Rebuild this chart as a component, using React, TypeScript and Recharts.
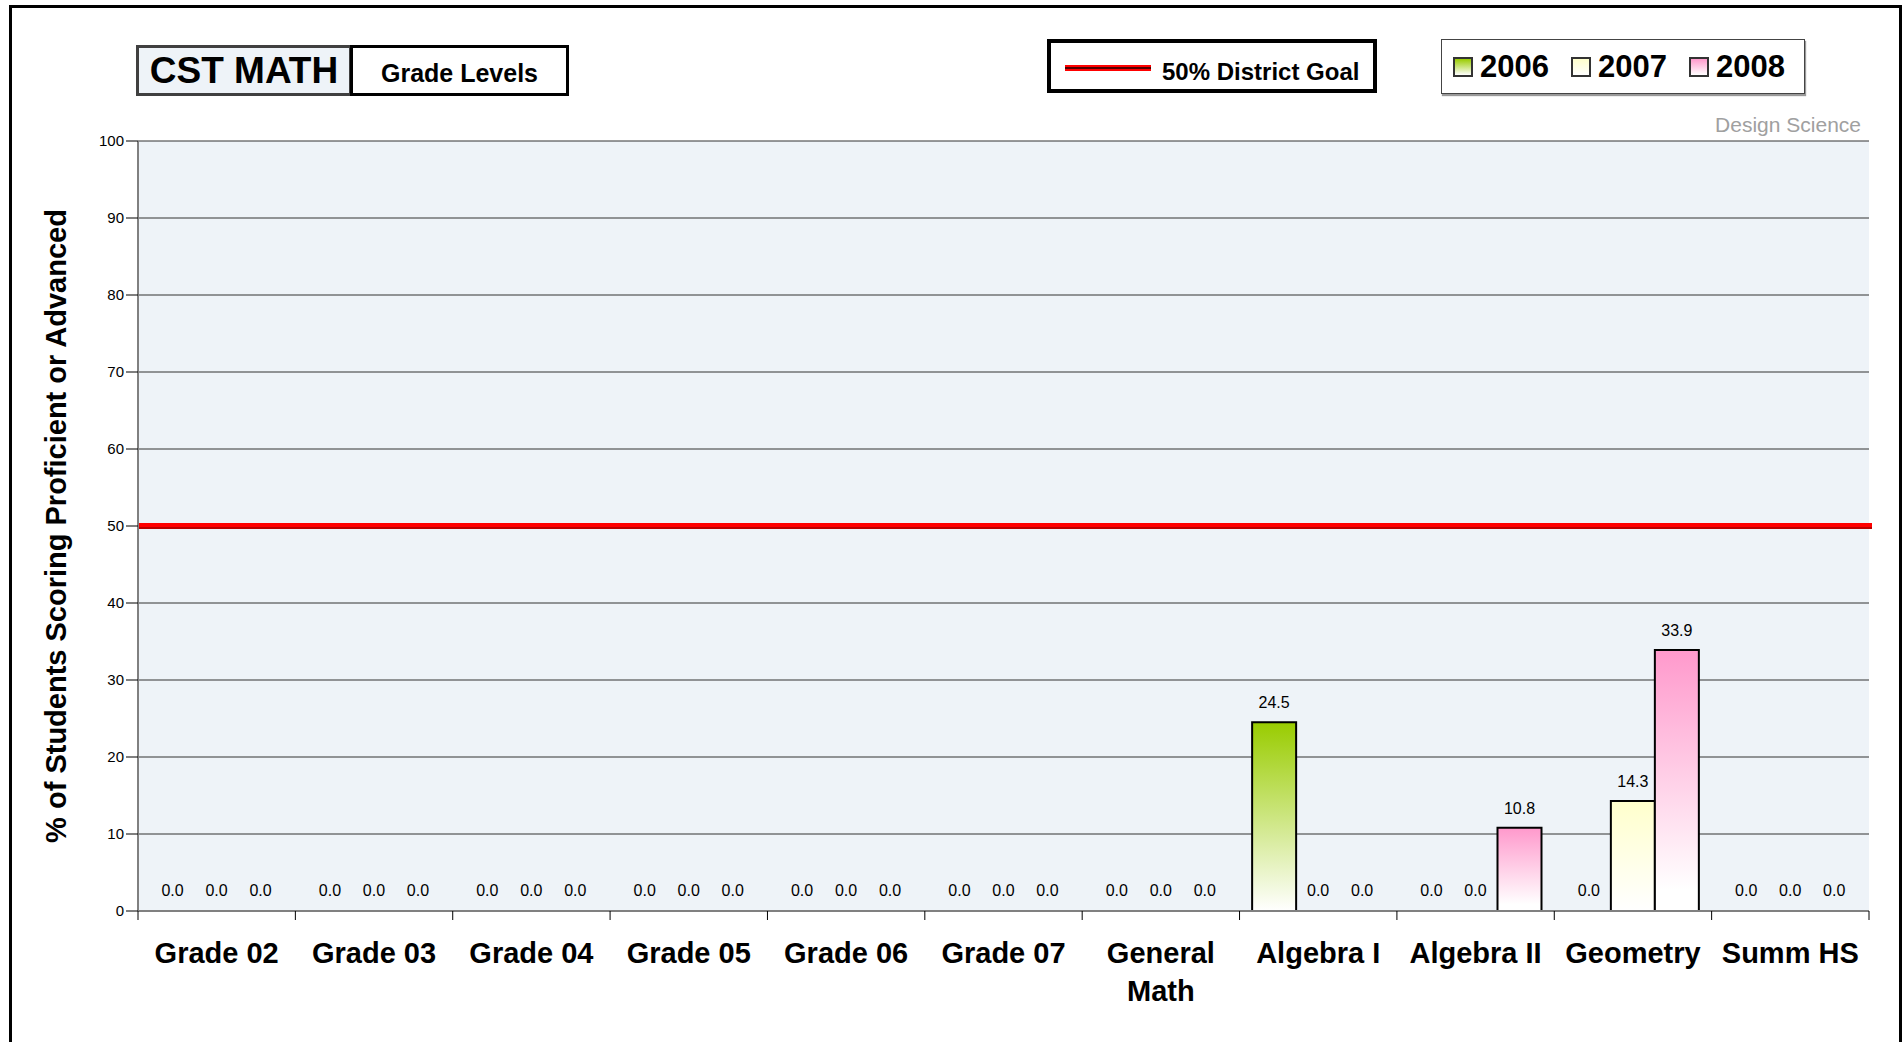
import React from 'react';
import { Bar, BarChart, CartesianGrid, LabelList, Rectangle, ReferenceLine, XAxis, YAxis } from 'recharts';

const categories = ['Grade 02', 'Grade 03', 'Grade 04', 'Grade 05', 'Grade 06', 'Grade 07', 'General Math', 'Algebra I', 'Algebra II', 'Geometry', 'Summ HS'];
const pct2006 = [0, 0, 0, 0, 0, 0, 0, 24.5, 0, 0, 0];
const pct2007 = [0, 0, 0, 0, 0, 0, 0, 0, 0, 14.3, 0];
const pct2008 = [0, 0, 0, 0, 0, 0, 0, 0, 10.8, 33.9, 0];
const yTicks = [0, 10, 20, 30, 40, 50, 60, 70, 80, 90, 100];
const districtGoal = 50;

const years = [
  { key: 'y2006', label: '2006', top: '#99cc00' },
  { key: 'y2007', label: '2007', top: '#ffffcc' },
  { key: 'y2008', label: '2008', top: '#ff99cc' },
];

const data = categories.map((name, i) => ({
  name,
  y2006: pct2006[i],
  y2007: pct2007[i],
  y2008: pct2008[i],
}));

const FONT = '"Liberation Sans", Arial, sans-serif';

function CategoryTick(props: any) {
  const { x, y, payload, index, width, visibleTicksCount } = props;
  const label = String(payload.value);
  // long names go on two lines, as in the original
  const lines = label.length > 10 ? label.split(' ') : [label];
  // tick marks sit on the band edges, not the band centres
  const half = payload.offset != null ? payload.offset : width / visibleTicksCount / 2;
  const isLast = index === visibleTicksCount - 1;
  return (
    <g>
      <line x1={x - half} y1={y} x2={x - half} y2={y + 9} stroke="#000" />
      {isLast && <line x1={x + half} y1={y} x2={x + half} y2={y + 9} stroke="#000" />}
      <text x={x} y={y + 52} textAnchor="middle" fontFamily={FONT} fontSize={29} fontWeight="bold" fill="#000">
        {lines.map((ln, i) => (
          <tspan key={i} x={x} dy={i === 0 ? 0 : 38}>
            {ln}
          </tspan>
        ))}
      </text>
    </g>
  );
}

function GoalLine(props: any) {
  const { x1, y1, x2 } = props;
  return (
    <g>
      <line x1={x1} y1={y1} x2={x2 + 3} y2={y1} stroke="#ff0000" strokeWidth={6} />
      <line x1={x1} y1={y1 + 2} x2={x2 + 3} y2={y1 + 2} stroke="#7a0000" strokeWidth={1.2} />
    </g>
  );
}

// zero values keep a 1px placeholder so their label still shows, but draw no box
function BarShape(props: any) {
  if (!props.value) return <g />;
  return <Rectangle {...props} />;
}

const fmt = (v: any) => Number(v).toFixed(1);

export default function App() {
  return (
    <div
      style={{
        position: 'absolute',
        left: 0,
        top: 0,
        width: 1904,
        height: 1042,
        overflow: 'hidden',
        background: '#fff',
        fontFamily: FONT,
      }}
    >
      <div
        style={{
          position: 'absolute',
          left: 9,
          top: 5,
          width: 1893,
          height: 1100,
          border: '3px solid #000',
          boxSizing: 'border-box',
        }}
      />

      <BarChart
        width={1904}
        height={1042}
        data={data}
        barCategoryGap="8%"
        barGap={0}
        margin={{ top: 141, right: 35, left: 78, bottom: 51 }}
      >
        <defs>
          {years.map((y) => (
            <linearGradient key={y.key} id={`grad-${y.key}`} x1="0" y1="0" x2="0" y2="1">
              <stop offset="0%" stopColor={y.top} />
              <stop offset={y.key === 'y2008' ? '92%' : '100%'} stopColor="#ffffff" />
            </linearGradient>
          ))}
        </defs>
        <CartesianGrid vertical={false} stroke="#333" fill="#eef3f8" />
        <XAxis
          dataKey="name"
          height={80}
          axisLine={{ stroke: '#808080', strokeWidth: 2 }}
          tickLine={false}
          tickSize={0}
          tickMargin={0}
          interval={0}
          tick={<CategoryTick />}
        />
        <YAxis
          width={60}
          domain={[0, 100]}
          ticks={yTicks}
          interval={0}
          axisLine={{ stroke: '#808080', strokeWidth: 2 }}
          tickLine={{ stroke: '#000' }}
          tickSize={12}
          tick={{ fontFamily: FONT, fontSize: 15, fill: '#000' }}
          label={{
            content: ({ viewBox }: any) => {
              const cx = viewBox.x - 22;
              const cy = viewBox.y + viewBox.height / 2;
              return (
                <text
                  x={cx}
                  y={cy}
                  transform={`rotate(-90 ${cx} ${cy})`}
                  textAnchor="middle"
                  dominantBaseline="central"
                  fontFamily={FONT}
                  fontSize={29}
                  fontWeight="bold"
                  fill="#000"
                >
                  % of Students Scoring Proficient or Advanced
                </text>
              );
            },
          }}
        />
        {years.map((y) => (
          <Bar
            key={y.key}
            dataKey={y.key}
            fill={`url(#grad-${y.key})`}
            stroke="#000"
            strokeWidth={2}
            minPointSize={1}
            shape={<BarShape />}
            isAnimationActive={false}
          >
            <LabelList
              dataKey={y.key}
              position="top"
              offset={14}
              formatter={fmt}
              style={{ fontFamily: FONT, fontSize: 16, fill: '#000' }}
            />
          </Bar>
        ))}
        <ReferenceLine y={districtGoal} shape={<GoalLine />} ifOverflow="visible" />
      </BarChart>

      {/* title boxes */}
      <div
        style={{
          position: 'absolute',
          left: 136,
          top: 45,
          width: 216,
          height: 51,
          boxSizing: 'border-box',
          border: '3px solid #404040',
          background: '#eef3f8',
          fontSize: 37,
          fontWeight: 'bold',
          display: 'flex',
          alignItems: 'center',
          justifyContent: 'center',
        }}
      >
        CST MATH
      </div>
      <div
        style={{
          position: 'absolute',
          left: 350,
          top: 45,
          width: 219,
          height: 51,
          boxSizing: 'border-box',
          border: '3px solid #000',
          background: '#fff',
          fontSize: 25,
          fontWeight: 'bold',
          display: 'flex',
          alignItems: 'center',
          justifyContent: 'center',
          paddingTop: 6,
        }}
      >
        Grade Levels
      </div>

      {/* goal legend */}
      <div
        style={{
          position: 'absolute',
          left: 1047,
          top: 39,
          width: 330,
          height: 54,
          boxSizing: 'border-box',
          border: '4px solid #000',
          background: '#fff',
          display: 'flex',
          alignItems: 'center',
          paddingLeft: 14,
        }}
      >
        <div
          style={{
            width: 86,
            height: 6,
            background: 'linear-gradient(#f00 0 35%, #500 35% 60%, #f00 60% 100%)',
            marginRight: 11,
            marginTop: 4,
          }}
        />
        <span style={{ fontSize: 24, fontWeight: 'bold', marginTop: 12 }}>50% District Goal</span>
      </div>

      {/* year legend */}
      <div
        style={{
          position: 'absolute',
          left: 1441,
          top: 39,
          width: 364,
          height: 55,
          boxSizing: 'border-box',
          border: '1px solid #444',
          boxShadow: '1px 2px 1px #999',
          background: '#fff',
          display: 'flex',
          alignItems: 'center',
          paddingLeft: 11,
        }}
      >
        {years.map((y) => (
          <div key={y.key} style={{ display: 'flex', alignItems: 'center', marginRight: 22 }}>
            <div
              style={{
                width: 20,
                height: 20,
                boxSizing: 'border-box',
                border: '2px solid #333',
                background: `linear-gradient(${y.top}, #fff)`,
                marginRight: 7,
              }}
            />
            <span style={{ fontSize: 31, fontWeight: 'bold' }}>{y.label}</span>
          </div>
        ))}
      </div>

      <div
        style={{
          position: 'absolute',
          right: 1904 - 1861,
          top: 113,
          fontSize: 21,
          color: '#a0a0a0',
        }}
      >
        Design Science
      </div>
    </div>
  );
}
